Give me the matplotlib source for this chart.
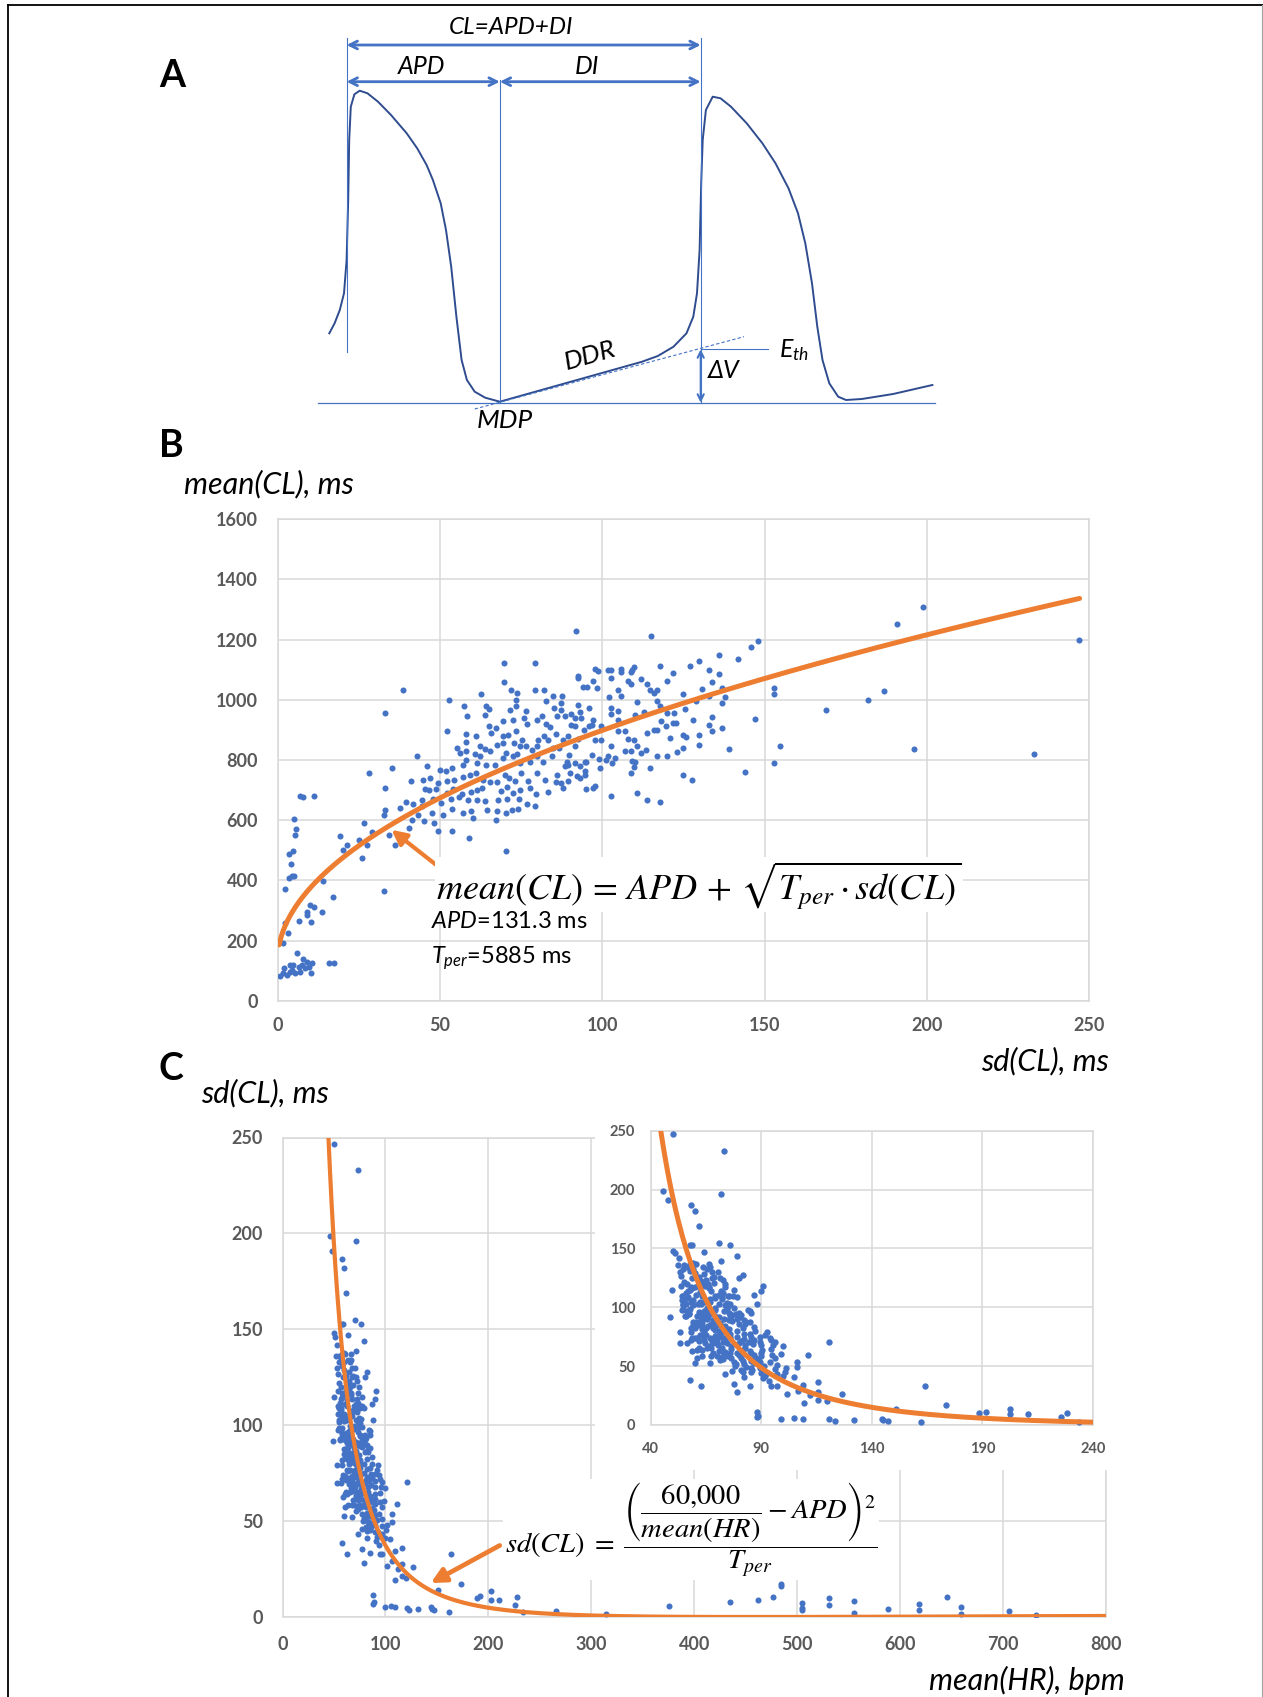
import numpy as np
import matplotlib
matplotlib.use("Agg")
import matplotlib.pyplot as plt
from matplotlib.patches import Rectangle

plt.rcParams["font.family"] = ["Lato", "DejaVu Sans"]
plt.rcParams["mathtext.fontset"] = "custom"
plt.rcParams["mathtext.it"] = "Lato:italic"
plt.rcParams["mathtext.rm"] = "Lato"

BLUE = "#4472C4"
ORANGE = "#ED7D31"
GRID = "#D9D9D9"
TICK = "#595959"
NAVY = "#2F4C8F"

W, H = 1263, 1697

# fit parameters
APD = 131.3
T_PER = 5885.0

# (sd(CL), mean(CL)) in ms
cl_points = [
    # low-sd cluster
    (0.8, 82), (1.6, 91), (2.1, 108), (2.9, 85), (3.7, 97), (3.9, 119), (4.4, 102),
    (4.9, 119), (5.4, 91), (5.9, 160), (6.5, 113), (7.0, 97), (7.5, 119), (7.8, 138),
    (8.5, 108), (9.0, 130), (9.8, 113), (10.4, 93), (10.6, 126), (16.0, 124), (17.4, 124),
    # left part
    (1.6, 191), (2.4, 257), (3.1, 226), (2.4, 370), (3.4, 407), (4.1, 455), (3.4, 487),
    (4.9, 498), (4.4, 413), (5.2, 415), (5.4, 551), (5.7, 571), (5.2, 605), (6.8, 682),
    (8.0, 677), (11.3, 681), (6.5, 266), (9.0, 285), (10.1, 318), (11.1, 313), (10.3, 263),
    (9.0, 296), (13.6, 296), (13.9, 398), (17.0, 346), (19.1, 549), (20.1, 501), (21.3, 518),
    (25.2, 535), (26.0, 474), (26.5, 590), (27.7, 518), (29.0, 562), (28.1, 757), (33.0, 956),
    (32.9, 366), (33.2, 707), (33.1, 634), (32.8, 618), (34.2, 551), (35.2, 773), (36.2, 518),
    (37.7, 640), (38.5, 1034), (39.6, 662), (40.6, 573), (41.0, 729), (41.8, 654), (41.3, 601),
    (43.1, 814), (43.4, 618),
    (45.1, 596), (48.2, 592), (49.5, 565), (53.8, 565), (59.1, 540), (60.3, 607), (67.3, 601),
    (70.3, 497),
    # dense cloud, sd 44-87
    (69.8, 1123), (79.4, 1123), (69.9, 1058), (62.8, 1021), (71.9, 1032), (73.9, 1023),
    (79.2, 1032), (82.0, 1032), (52.8, 998), (57.3, 981), (73.5, 1001), (73.6, 981),
    (64.1, 981), (65.2, 970), (82.8, 995), (84.9, 1012), (58.4, 945), (64.0, 951), (71.5, 967),
    (76.5, 962), (85.2, 973), (86.1, 947), (52.3, 895), (65.0, 914), (67.4, 906), (69.3, 929),
    (72.6, 934), (75.9, 940), (76.7, 921), (79.9, 934), (81.6, 945), (82.6, 921), (83.9, 910),
    (58.2, 888), (61.1, 879), (65.6, 890), (69.5, 879), (71.0, 884), (73.6, 895), (75.4, 868),
    (80.3, 868), (82.0, 879), (83.3, 868), (85.7, 888), (55.3, 840), (56.2, 823), (58.2, 859),
    (58.0, 829), (62.5, 845), (63.8, 836), (65.4, 829), (67.6, 851), (69.3, 856), (70.3, 823),
    (72.9, 856), (74.6, 848), (76.5, 848), (78.5, 834), (79.9, 845), (84.9, 840), (86.7, 840),
    (45.9, 779), (50.0, 768), (51.8, 762), (53.6, 773), (57.2, 784), (58.2, 801), (60.8, 821),
    (61.3, 790), (62.3, 812), (64.2, 784), (66.9, 784), (69.5, 806), (72.4, 812), (73.8, 821),
    (74.6, 790), (77.7, 792), (79.9, 812), (81.8, 793), (84.4, 812), (44.9, 734), (46.9, 740),
    (49.5, 723), (52.1, 729), (54.4, 734), (57.2, 743), (59.2, 751), (61.1, 757), (63.3, 734),
    (65.4, 726), (67.6, 726), (70.0, 751), (71.3, 740), (73.1, 729), (75.1, 757), (77.2, 729),
    (79.9, 757), (82.3, 734), (86.1, 751), (45.4, 703), (46.7, 699), (48.8, 703), (52.3, 690),
    (54.1, 703), (56.7, 688), (59.7, 692), (61.3, 701), (63.1, 707), (68.8, 696), (70.7, 710),
    (72.6, 690), (74.8, 701), (77.7, 707), (79.7, 688), (83.3, 692), (85.9, 726), (44.4, 668),
    (48.0, 670), (50.5, 657), (53.4, 670), (56.0, 677), (58.7, 668), (61.3, 668), (64.0, 665),
    (68.0, 668), (70.7, 670), (74.4, 670), (76.7, 655), (79.2, 646), (53.6, 637), (57.2, 623),
    (59.7, 632), (64.4, 635), (67.6, 629), (70.3, 623), (72.1, 635), (74.1, 637), (47.7, 623),
    (51.0, 618), (44.4, 646),
    # dense cloud, sd 87-128
    (91.8, 1228), (114.9, 1211), (97.7, 1103), (98.7, 1095), (101.8, 1100), (102.8, 1100),
    (105.9, 1103), (105.9, 1092), (109.2, 1100), (109.8, 1109), (109.0, 1092), (117.8, 1112),
    (121.8, 1089), (126.9, 1112), (92.4, 1080), (92.6, 1073), (97.2, 1062), (102.8, 1072),
    (107.9, 1062), (108.8, 1051), (111.8, 1070), (113.9, 1051), (94.1, 1042), (95.4, 1042),
    (98.5, 1039), (104.9, 1032), (105.9, 1012), (102.0, 1011), (114.7, 1034), (116.0, 1023),
    (117.0, 1032), (120.1, 1062), (124.9, 1021), (87.7, 1012), (87.4, 990), (92.4, 984),
    (95.8, 972), (87.4, 965), (88.5, 945), (90.5, 954), (91.7, 940), (93.1, 958), (93.6, 940),
    (97.2, 934), (96.7, 917), (102.8, 973), (104.9, 962), (102.8, 954), (104.9, 934),
    (110.0, 951), (110.8, 992), (112.9, 961), (117.0, 995), (117.7, 978), (120.1, 956),
    (122.1, 956), (125.6, 970), (127.9, 934), (90.3, 917), (91.5, 912), (94.4, 901),
    (95.9, 914), (99.7, 914), (104.9, 895), (106.9, 895), (113.9, 890), (116.0, 901),
    (117.0, 901), (118.0, 929), (119.7, 912), (121.8, 923), (122.8, 923), (125.0, 884),
    (125.9, 875), (120.8, 874), (89.5, 879), (92.6, 870), (91.5, 845), (87.9, 868), (97.9, 868),
    (99.7, 868), (107.9, 870), (109.8, 868), (102.8, 845), (110.8, 845), (113.6, 834),
    (106.9, 829), (109.0, 829), (111.8, 823), (117.0, 814), (119.8, 812), (122.9, 826),
    (124.9, 839), (96.7, 818), (89.8, 818), (89.3, 795), (88.5, 779), (89.5, 784), (91.5, 790),
    (93.1, 779), (94.6, 792), (95.1, 795), (94.6, 765), (99.2, 773), (98.9, 803), (101.3, 801),
    (101.8, 814), (103.0, 790), (103.8, 806), (109.2, 798), (109.8, 777), (108.8, 757),
    (110.0, 795), (114.8, 773), (124.9, 751), (127.6, 732), (90.0, 757), (92.1, 746),
    (93.1, 740), (94.8, 750), (89.5, 729), (87.4, 723), (87.9, 707), (95.1, 703), (97.2, 707),
    (97.7, 712), (102.8, 681), (110.8, 690), (113.9, 668), (117.8, 661),
    # right tail
    (129.0, 997), (129.9, 1129), (129.9, 883), (129.9, 851), (130.8, 1036), (132.9, 1100),
    (132.9, 1012), (132.9, 916), (133.9, 1060), (133.9, 943), (133.9, 897), (135.9, 1148),
    (135.9, 1086), (136.9, 1040), (136.9, 990), (136.9, 905), (137.9, 1010), (138.9, 837),
    (141.9, 1136), (143.9, 760), (145.9, 1176), (146.9, 936), (147.9, 1197), (152.9, 1040),
    (152.9, 1020), (152.9, 790), (154.9, 848), (168.9, 967), (181.8, 1000), (186.8, 1030),
    (190.8, 1251), (195.9, 837), (198.8, 1310), (233.0, 820), (246.8, 1200),
]

b_xticks = [0, 50, 100, 150, 200, 250]
b_yticks = [0, 200, 400, 600, 800, 1000, 1200, 1400, 1600]
c_xticks = [0, 100, 200, 300, 400, 500, 600, 700, 800]
c_yticks = [0, 50, 100, 150, 200, 250]
inset_xticks = [40, 90, 140, 190, 240]

# panel A schematic, in figure pixels (x: time, y: voltage downwards)
ap_x = [329.3, 334.6, 339.8, 344.0, 346.6, 348.2, 349.2, 350.8, 354.4, 359.7,
        367.5, 378.0, 391.0, 406.7, 417.2, 426.6, 432.9, 440.7, 446.0, 451.2,
        456.4, 461.6, 466.9, 474.7, 485.2, 499.8, 642.1, 657.8, 673.5, 686.5,
        693.3, 697.0, 699.6, 701.2, 702.7, 705.9, 712.7, 720.5, 731.0, 746.7,
        762.4, 775.5, 788.5, 798.0, 805.3, 812.0, 817.3, 822.5, 829.3, 838.2,
        846.0, 861.8, 893.1, 932.4]
ap_y = [333.3, 323.3, 310.0, 293.3, 260.0, 200.0, 140.0, 106.7, 94.3, 90.7,
        93.3, 101.7, 115.0, 133.3, 148.3, 165.0, 180.0, 203.3, 230.0, 266.7,
        316.7, 360.0, 380.0, 391.7, 397.7, 401.7, 361.7, 356.0, 346.7, 333.3,
        316.7, 293.3, 250.0, 183.3, 140.0, 110.0, 96.7, 98.3, 106.7, 123.3,
        143.3, 163.3, 188.3, 213.3, 243.3, 283.3, 326.7, 360.0, 383.3, 396.7,
        400.0, 399.0, 394.0, 385.0]
t_up1, t_mdp, t_up2 = 346.6, 499.8, 700.7
v_mdp, v_th = 402.7, 349.3
tangent_x = [474.7, 744.0]
tangent_y = [409.0, 336.7]


def style_axes(ax, xt, yt, fs, xpad, ypad):
    ax.set_xticks(xt, labels=[str(v) for v in xt], fontweight="bold")
    ax.set_yticks(yt, labels=[str(v) for v in yt], fontweight="bold")
    ax.grid(True, color=GRID, lw=1.1)
    ax.set_axisbelow(True)
    for s in ax.spines.values():
        s.set_color(GRID)
        s.set_linewidth(1.1)
    ax.tick_params(length=0, labelsize=fs, labelcolor=TICK)
    ax.tick_params(axis="x", pad=xpad)
    ax.tick_params(axis="y", pad=ypad)


def fig_rect(x0, y0, x1, y1):
    # pixel box (top-left origin) -> figure fraction rect
    return [x0 / W, 1 - y1 / H, (x1 - x0) / W, (y1 - y0) / H]


pts = np.array(cl_points)
sd_cl = pts[:, 0]
mean_cl = pts[:, 1]
mean_hr = 60000.0 / mean_cl

fig = plt.figure(figsize=(W / 100, H / 100), dpi=100)

# ---------------- panel B ----------------
ax_b = fig.add_axes(fig_rect(277.5, 519.3, 1089.3, 1000.7))
style_axes(ax_b, b_xticks, b_yticks, 13, 12, 14)
ax_b.set_xlim(0, 250)
ax_b.set_ylim(0, 1600)
ax_b.scatter(sd_cl, mean_cl, s=19, color=BLUE, linewidths=0, zorder=3)
sd_grid = np.linspace(0.5, 247, 400)
ax_b.plot(sd_grid, APD + np.sqrt(T_PER * sd_grid), color=ORANGE, lw=3.6,
          solid_capstyle="round", zorder=4)
ax_b.annotate("", xy=(35.1, 568), xytext=(51.5, 429),
              arrowprops=dict(arrowstyle="-|>", color=ORANGE, lw=3,
                              mutation_scale=22, shrinkA=0, shrinkB=0), zorder=5)
ax_b.text(48.8, 385, r"$mean(CL)\,=\,APD\,+\,\sqrt{T_{per} \cdot sd(CL)}$",
          fontsize=26, math_fontfamily="stix", ha="left", va="center",
          bbox=dict(fc="white", ec="none", pad=1), zorder=5)
ax_b.text(47.2, 243, r"$APD$=131.3 ms", fontsize=17, ha="left", va="baseline", zorder=5)
ax_b.text(47.2, 125, r"$T_{per}$=5885 ms", fontsize=17, ha="left", va="baseline", zorder=5)

# ---------------- panel C ----------------
ax_c = fig.add_axes(fig_rect(282.5, 1137.5, 1106, 1617))
style_axes(ax_c, c_xticks, c_yticks, 13, 14, 14)
ax_c.set_xlim(0, 800)
ax_c.set_ylim(0, 250)
ax_c.scatter(mean_hr, sd_cl, s=19, color=BLUE, linewidths=0, zorder=3)
hr_grid = np.linspace(44, 800, 800)
sd_fit = (60000.0 / hr_grid - APD) ** 2 / T_PER
ax_c.plot(hr_grid, sd_fit, color=ORANGE, lw=3, zorder=4)
ax_c.annotate("", xy=(144, 17.7), xytext=(211, 37.3),
              arrowprops=dict(arrowstyle="-|>", color=ORANGE, lw=3.4,
                              mutation_scale=22, shrinkA=0, shrinkB=0), zorder=5)
ax_c.text(216, 45.4,
          r"$sd(CL)\;=\;\dfrac{\left(\dfrac{60{,}000}{mean(HR)} - APD\right)^2}{T_{per}}$",
          fontsize=20.5, math_fontfamily="stix", ha="left", va="center",
          bbox=dict(fc="white", ec="none", pad=1), zorder=5)

# white backing behind the inset
fig.add_artist(Rectangle((595 / W, 1 - 1470 / H), (1112 - 595) / W, (1470 - 1115) / H,
                         transform=fig.transFigure, fc="white", ec="none", zorder=2))
ax_in = fig.add_axes(fig_rect(650.5, 1130.7, 1093, 1425), zorder=3)
style_axes(ax_in, inset_xticks, c_yticks, 10.5, 12, 11)
ax_in.set_xlim(40, 240)
ax_in.set_ylim(0, 250)
ax_in.scatter(mean_hr, sd_cl, s=21, color=BLUE, linewidths=0, zorder=3)
ax_in.plot(hr_grid, sd_fit, color=ORANGE, lw=3.6, zorder=4)

# ---------------- overlay: panel A, labels, frame ----------------
ov = fig.add_axes([0, 0, 1, 1], zorder=10)
ov.set_xlim(0, W)
ov.set_ylim(H, 0)
ov.set_axis_off()

ov.plot([7.5, 7.5], [4.5, H], color="black", lw=1.3)
ov.plot([7.5, W], [4.5, 4.5], color="black", lw=1.3)
ov.plot([1262, 1262], [4.5, H], color="#A0A0A0", lw=0.8)

ov.plot(ap_x, ap_y, color=NAVY, lw=1.4, solid_joinstyle="round")
ov.plot([317.8, 935], [v_mdp, v_mdp], color=BLUE, lw=0.9)
ov.plot([t_up1, t_up1], [38, 352], color=BLUE, lw=0.8)
ov.plot([t_mdp, t_mdp], [80, v_mdp], color=BLUE, lw=0.8)
ov.plot([t_up2, t_up2], [38, v_mdp], color=BLUE, lw=0.8)
ov.plot([t_up2, 767.6], [v_th, v_th], color=BLUE, lw=0.8)
ov.plot(tangent_x, tangent_y, color=BLUE, lw=0.8, ls=(0, (3, 2)))

arrow_kw = dict(arrowstyle="<->", color=BLUE, lw=2, mutation_scale=14, shrinkA=0, shrinkB=0)
ov.annotate("", xy=(t_up2, 45), xytext=(t_up1, 45), arrowprops=arrow_kw)
ov.annotate("", xy=(t_mdp, 81.7), xytext=(t_up1, 81.7), arrowprops=arrow_kw)
ov.annotate("", xy=(t_up2, 81.7), xytext=(t_mdp, 81.7), arrowprops=arrow_kw)
ov.annotate("", xy=(t_up2, v_mdp), xytext=(t_up2, v_th),
            arrowprops=dict(arrow_kw, lw=1.5, mutation_scale=11))

a_font = dict(style="italic", ha="center", va="center")
ov.text(511, 27, "CL=APD+DI", fontsize=17.5, **a_font)
ov.text(422, 67, "APD", fontsize=18, **a_font)
ov.text(587, 67, "DI", fontsize=18, **a_font)
ov.text(590, 356, "DDR", rotation=16, fontsize=19, **a_font)
ov.text(505, 421, "MDP", fontsize=19, **a_font)
ov.text(724, 370, "ΔV", fontsize=18, **a_font)
ov.text(779, 350, r"$E_{th}$", fontsize=18, ha="left", va="center")

ov.text(159, 76, "A", fontsize=27, fontweight="bold", ha="left", va="center")
ov.text(159, 446, "B", fontsize=27, fontweight="bold", ha="left", va="center")
ov.text(159, 1069, "C", fontsize=27, fontweight="bold", ha="left", va="center")

ov.text(184, 484, "mean(CL), ms", fontsize=22, style="italic", ha="left", va="center")
ov.text(1109, 1061, "sd(CL), ms", fontsize=22, style="italic", ha="right", va="center")
ov.text(201, 1093, "sd(CL), ms", fontsize=22, style="italic", ha="left", va="center")
ov.text(1125, 1680, "mean(HR), bpm", fontsize=22, style="italic", ha="right", va="center")

fig.savefig("out.png", dpi=100)
